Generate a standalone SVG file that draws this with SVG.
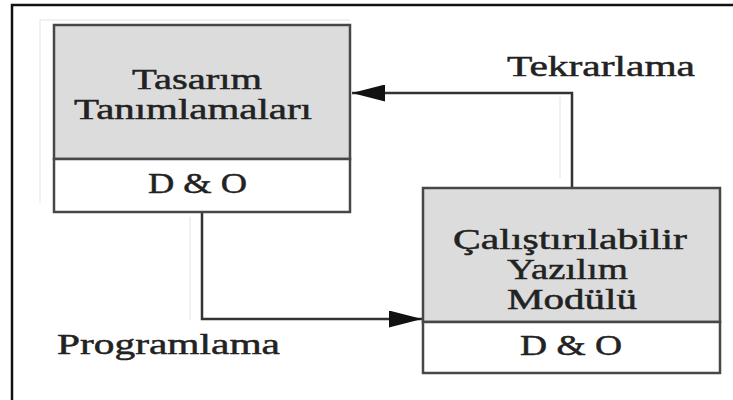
<svg xmlns="http://www.w3.org/2000/svg" width="733" height="400" viewBox="0 0 733 400">
  <style>
    .frame { fill: none; stroke: #111; stroke-width: 2.5; }
    .ghost { fill: none; stroke: #ececec; stroke-width: 1.5; }
    .head { fill: #dcdcdc; stroke: #474747; stroke-width: 2.5; }
    .foot { fill: #ffffff; stroke: #474747; stroke-width: 2.5; }
    .wire { fill: none; stroke: #333; stroke-width: 2.5; }
    .lbl { font-family: "Liberation Serif", "Times New Roman", serif; font-size: 30px; fill: #222; stroke: #222; stroke-width: 0.5; }
  </style>
  <defs>
    <marker id="arrow" markerUnits="userSpaceOnUse" markerWidth="34" markerHeight="17" refX="33" refY="8.5" orient="auto">
      <path d="M0,0 L33,8.5 L0,17 Z" fill="#111"/>
    </marker>
  </defs>

  <rect width="733" height="400" fill="#ffffff"/>

  <!-- page frame: top and left edges -->
  <path class="frame" d="M12,400 V5 H733"/>

  <!-- faint offset lines -->
  <g id="ghosts">
    <path class="ghost" d="M40,203 V20 H350"/>
    <path class="ghost" d="M560,178 V97"/>
    <path class="ghost" d="M190,217 V320"/>
  </g>

  <!-- connectors -->
  <g id="connectors">
    <path class="wire" d="M572,188 V93 H352" marker-end="url(#arrow)"/>
    <path class="wire" d="M202,212 V319 H422" marker-end="url(#arrow)"/>
    <text class="lbl" x="507" y="76" textLength="188" lengthAdjust="spacingAndGlyphs">Tekrarlama</text>
    <text class="lbl" x="57" y="354" textLength="223" lengthAdjust="spacingAndGlyphs">Programlama</text>
  </g>

  <!-- design definitions -->
  <g id="tasarim">
    <rect class="head" x="54" y="25" width="296" height="134"/>
    <rect class="foot" x="54" y="159" width="296" height="53"/>
    <text class="lbl" x="132" y="89" textLength="130" lengthAdjust="spacingAndGlyphs">Tasarım</text>
    <text class="lbl" x="74" y="119" textLength="238" lengthAdjust="spacingAndGlyphs">Tanımlamaları</text>
    <text class="lbl" x="148" y="193" textLength="99" lengthAdjust="spacingAndGlyphs">D &amp; O</text>
  </g>

  <!-- executable software module -->
  <g id="modul">
    <rect class="head" x="423" y="188" width="297" height="134"/>
    <rect class="foot" x="423" y="322" width="297" height="51"/>
    <text class="lbl" x="453" y="249" textLength="234" lengthAdjust="spacingAndGlyphs">Çalıştırılabilir</text>
    <text class="lbl" x="507" y="279" textLength="121" lengthAdjust="spacingAndGlyphs">Yazılım</text>
    <text class="lbl" x="507" y="309" textLength="130" lengthAdjust="spacingAndGlyphs">Modülü</text>
    <text class="lbl" x="520" y="355" textLength="102" lengthAdjust="spacingAndGlyphs">D &amp; O</text>
  </g>
</svg>
